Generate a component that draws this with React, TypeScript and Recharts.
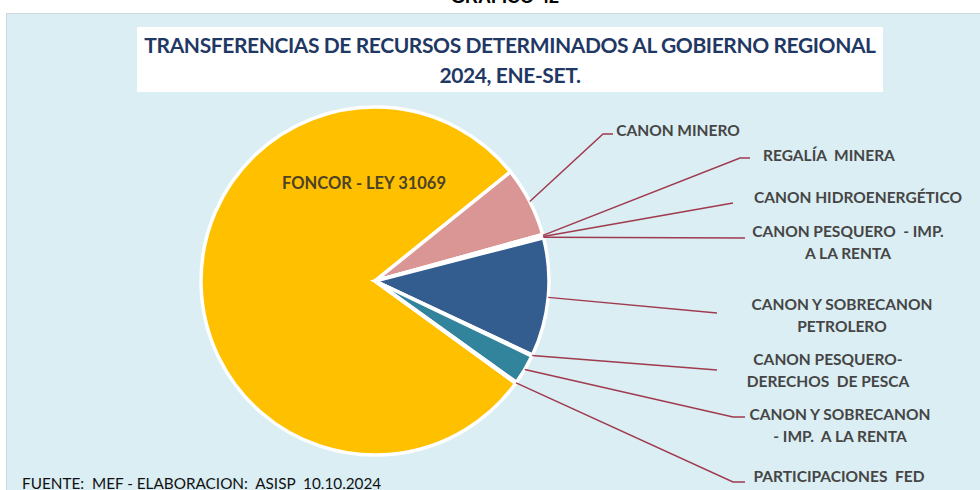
import React from "react";
import { PieChart, Pie, Cell } from "recharts";

// share of transfers (%)
const CATEGORIES = [
  "FONCOR - LEY 31069",
  "CANON MINERO",
  "REGALÍA  MINERA",
  "CANON HIDROENERGÉTICO",
  "CANON PESQUERO  - IMP.\nA LA RENTA",
  "CANON Y SOBRECANON\nPETROLERO",
  "CANON PESQUERO-\nDERECHOS  DE PESCA",
  "CANON Y SOBRECANON\n- IMP.  A LA RENTA",
  "PARTICIPACIONES  FED",
];
const VALUES = [79.2, 6.5, 0.15, 0.05, 0.1, 11.0, 0.1, 2.8, 0.1];
const COLORS = [
  "#FFC000",
  "#D99694",
  "#C0504D",
  "#9BBB59",
  "#8064A2",
  "#335C8F",
  "#4BACC6",
  "#31849B",
  "#F79646",
];

// manual label placement (like the excel original): text centre, first line y,
// leader line end and optional short elbow
const LABEL_LAYOUT = [
  { x: 364, y: 183 },
  { x: 678, y: 130, lx: 603, ly: 134, ex: 613 },
  { x: 829, y: 155, lx: 740, ly: 158, ex: 750 },
  { x: 858, y: 197, lx: 733, ly: 203 },
  { x: 848, y: 231, lx: 745, ly: 238 },
  { x: 842, y: 304, lx: 717, ly: 313 },
  { x: 828, y: 359, lx: 717, ly: 370 },
  { x: 840, y: 414, lx: 733, ly: 417, ex: 745 },
  { x: 839, y: 476, lx: 733, ly: 482, ex: 745 },
];

const RADIAN = Math.PI / 180;
const FONT = "Lato, 'Open Sans', sans-serif";

const renderLabel = (props: any) => {
  const { cx, cy, midAngle, outerRadius, index } = props;
  const pos: any = LABEL_LAYOUT[index];
  const lines = CATEGORIES[index].split("\n");

  if (index === 0) {
    return (
      <text
        x={pos.x}
        y={pos.y}
        textAnchor="middle"
        dominantBaseline="central"
        fontFamily={FONT}
        fontWeight={700}
        fontSize={16.5}
        fill="#4D4226"
      >
        {lines[0]}
      </text>
    );
  }

  const sx = cx + outerRadius * Math.cos(-midAngle * RADIAN);
  const sy = cy + outerRadius * Math.sin(-midAngle * RADIAN);
  let pts = `${sx},${sy} ${pos.lx},${pos.ly}`;
  if (pos.ex) pts += ` ${pos.ex},${pos.ly}`;

  return (
    <g>
      <polyline points={pts} fill="none" stroke="#A03A4E" strokeWidth={1.5} />
      <text
        x={pos.x}
        y={pos.y}
        textAnchor="middle"
        dominantBaseline="central"
        fontFamily={FONT}
        fontWeight={700}
        fontSize={15.5}
        fill="#454545"
        style={{ whiteSpace: "pre" }}
      >
        {lines.map((line, i) => (
          <tspan key={i} x={pos.x} dy={i === 0 ? 0 : 22}>
            {line}
          </tspan>
        ))}
      </text>
    </g>
  );
};

const data = CATEGORIES.map((name, i) => ({ name, value: VALUES[i] }));

export default function App() {
  return (
    <div
      style={{
        position: "absolute",
        left: 0,
        top: 0,
        width: 980,
        height: 490,
        overflow: "hidden",
        background: "#FFFFFF",
        fontFamily: FONT,
      }}
    >
      <div
        style={{
          position: "absolute",
          left: 0,
          right: 0,
          top: -13,
          textAlign: "center",
          fontFamily: "'Liberation Sans', Arial, sans-serif",
          fontWeight: 700,
          fontSize: 18,
          color: "#000",
          paddingLeft: 30,
        }}
      >
        GRÁFICO 42
      </div>
      <div
        style={{
          position: "absolute",
          left: 6,
          top: 13,
          width: 974,
          height: 477,
          background: "#DAEEF3",
          borderLeft: "1px solid #C9D9DD",
          borderTop: "1px solid #C9D9DD",
        }}
      />
      <div
        style={{
          position: "absolute",
          left: 137,
          top: 27,
          width: 746,
          height: 65,
          background: "#FFFFFF",
          textAlign: "center",
          color: "#1F3864",
          fontWeight: 700,
          fontSize: 21,
          lineHeight: "30px",
          paddingTop: 3,
          boxSizing: "border-box",
          letterSpacing: -0.4,
        }}
      >
        <div>TRANSFERENCIAS DE RECURSOS DETERMINADOS AL GOBIERNO REGIONAL</div>
        <div>2024, ENE-SET.</div>
      </div>
      <div
        style={{
          position: "absolute",
          left: 22,
          top: 474,
          fontSize: 15.3,
          color: "#111",
          whiteSpace: "pre",
        }}
      >
        {"FUENTE:  MEF - ELABORACION:  ASISP  10.10.2024"}
      </div>
      <div style={{ position: "absolute", left: 0, top: 0 }}>
        <PieChart width={980} height={490} margin={{ top: 0, right: 0, bottom: 0, left: 0 }}>
          <Pie
            data={data}
            dataKey="value"
            nameKey="name"
            cx={375}
            cy={281}
            outerRadius={174}
            startAngle={324}
            endAngle={-36}
            stroke="#FFFFFF"
            strokeWidth={3.5}
            label={renderLabel}
            labelLine={false}
            isAnimationActive={false}
          >
            {data.map((entry, i) => (
              <Cell key={entry.name} fill={COLORS[i]} />
            ))}
          </Pie>
        </PieChart>
      </div>
    </div>
  );
}
